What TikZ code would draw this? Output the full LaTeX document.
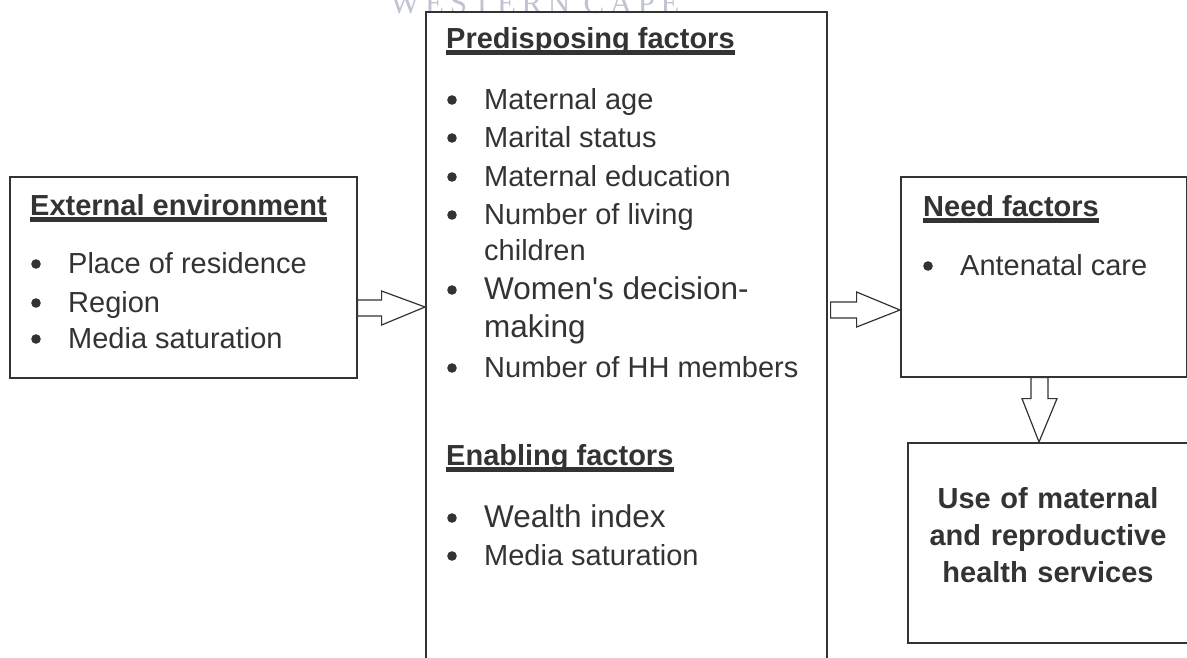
\documentclass[tikz,border=0pt]{standalone}
\usepackage{fontspec}
\setmainfont{Liberation Sans}
\newfontfamily\wmfont[LetterSpace=18]{Liberation Serif}
\usetikzlibrary{calc}
\definecolor{ink}{HTML}{333333}
\definecolor{wmark}{HTML}{BFC3D3}

\begin{document}
\begin{tikzpicture}[x=1pt,y=-1pt,
	box/.style={draw=ink,line width=1.6pt,inner sep=0pt,anchor=north west},
	head/.style={anchor=base west,inner sep=0pt,text=ink,font=\fontsize{29}{38}\selectfont\bfseries},
	item/.style={anchor=base west,inner sep=0pt,text=ink,font=\fontsize{29}{38}\selectfont,
		append after command={\pgfextra{\fill[ink] ([xshift=-32pt,yshift=9pt]\tikzlastnode.base west) circle[radius=4.8pt];}}},
	cont/.style={anchor=base west,inner sep=0pt,text=ink,font=\fontsize{29}{38}\selectfont},
	uline/.style={draw=ink,line width=4.5pt},
	fat/.style={draw=ink,line width=1.2pt,fill=white,line join=miter}]

	\useasboundingbox (0,0) rectangle (1187,657);

	% watermark, cut at the top
	\node[anchor=base,inner sep=0pt,text=wmark,font=\wmfont\fontsize{31}{31}\selectfont] (wm) at (535,13) {WESTERN CAPE};

	\node[box,minimum width=347pt,minimum height=201pt] (ext) at (9,176) {};
	\node[box,minimum width=401pt,minimum height=700pt] (main) at (425,11) {};
	\node[box,minimum width=286pt,minimum height=200pt] (need) at (900,176) {};
	\node[box,minimum width=300pt,minimum height=200pt] (use) at (907,442) {};

	\node[head] (hext) at (30,215) {External environment};
	\node[item] (e1) at (68,273) {Place of residence};
	\node[item] (e2) at (68,312) {Region};
	\node[item] (e3) at (68,348) {Media saturation};

	\node[head] (hpre) at (446,48) {Predisposing factors};
	\node[item] (p1) at (484,109) {Maternal age};
	\node[item] (p2) at (484,147) {Marital status};
	\node[item] (p3) at (484,186) {Maternal education};
	\node[item] (p4) at (484,224) {Number of living};
	\node[cont] (p4b) at (484,260) {children};
	\node[item] (p5) at (484,299) {{\fontsize{31.5}{38}\selectfont Women\textquotesingle s decision-}};
	\node[cont] (p5b) at (484,337) {{\fontsize{31.5}{38}\selectfont making}};
	\node[item] (p6) at (484,377) {Number of HH members};

	\node[head] (hena) at (446,465) {Enabling factors};
	\node[item] (n1) at (484,527) {{\fontsize{31.5}{38}\selectfont Wealth index}};
	\node[item] (n2) at (484,565) {Media saturation};

	\node[head] (hneed) at (923,216) {Need factors};
	\node[item] (d1) at (960,275) {Antenatal care};

	\node[head,anchor=base,text width=270pt,align=center,font=\fontsize{29}{37}\selectfont\bfseries] (huse) at (1048,508) {Use of maternal\\and reproductive\\health services};

	\draw[uline] ([yshift=-4.5pt]hext.base west) -- ([yshift=-4.5pt]hext.base east);
	\draw[uline] ([yshift=-4.5pt]hpre.base west) -- ([yshift=-4.5pt]hpre.base east);
	\draw[uline] ([yshift=-4.5pt]hena.base west) -- ([yshift=-4.5pt]hena.base east);
	\draw[uline] ([yshift=-4.5pt]hneed.base west) -- ([yshift=-4.5pt]hneed.base east);

	% block arrows
	\draw[fat] ($(ext.north east)+(0,124)$) -- ++(24,0) -- ++(0,-9) -- ($(main.north west)+(0,296)$)
		-- ($(ext.north east)+(24,149)$) -- ++(0,-9) -- ++(-24,0) -- cycle;
	\draw[fat] ($(main.north east)+(3,291)$) -- ++(26,0) -- ++(0,-10) -- ($(need.north west)+(0,134)$)
		-- ($(main.north east)+(29,316)$) -- ++(0,-9) -- ++(-26,0) -- cycle;
	\draw[fat] ($(need.south west)+(131,0)$) -- ++(0,21) -- ++(-9,0) -- ($(use.north west)+(132,0)$)
		-- ($(need.south west)+(157,21)$) -- ++(-9,0) -- ++(0,-21) -- cycle;

\end{tikzpicture}
\end{document}
